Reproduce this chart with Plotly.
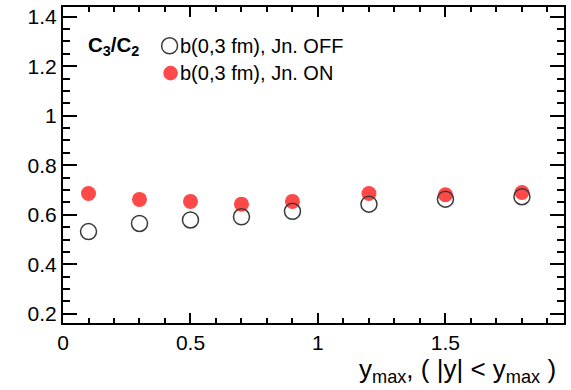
import plotly.graph_objects as go

ymax_vals = [0.1, 0.3, 0.5, 0.7, 0.9, 1.2, 1.5, 1.8]
ratio_jn_off = [0.532, 0.565, 0.579, 0.592, 0.614, 0.643, 0.663, 0.673]
ratio_jn_on = [0.686, 0.662, 0.654, 0.643, 0.654, 0.686, 0.681, 0.690]
label_off = "b(0,3 fm), Jn. OFF"
label_on = "b(0,3 fm), Jn. ON"
red = "#ff4848"
dark = "#3a3a3a"
FONT = "Liberation Sans, Arial, Helvetica, sans-serif"

fig = go.Figure()
fig.add_trace(go.Scatter(x=ymax_vals, y=ratio_jn_on, mode="markers", name=label_on,
                         marker=dict(symbol="circle", size=15, color=red, line=dict(width=0)),
                         showlegend=False))
fig.add_trace(go.Scatter(x=ymax_vals, y=ratio_jn_off, mode="markers", name=label_off,
                         marker=dict(symbol="circle-open", size=16, color=dark, line=dict(width=1.5)),
                         showlegend=False))

L, R, T, B = 63, 5, 5, 67
W, H = 571, 390
pw, ph = W - L - R, H - T - B

def px(xp):
    return (xp - L) / pw

def py(yp):
    return (H - B - yp) / ph

# manual legend
fig.add_shape(type="circle", xref="paper", yref="paper", xsizemode="pixel", ysizemode="pixel",
              xanchor=px(170), yanchor=py(44), x0=-8, x1=8, y0=-8, y1=8,
              line=dict(color=dark, width=1.5), fillcolor="rgba(0,0,0,0)")
fig.add_shape(type="circle", xref="paper", yref="paper", xsizemode="pixel", ysizemode="pixel",
              xanchor=px(171), yanchor=py(71.5), x0=-7.3, x1=7.3, y0=-7.3, y1=7.3,
              line=dict(color=red, width=0), fillcolor=red)
fig.add_annotation(x=px(178), y=py(44), xref="paper", yref="paper", text=label_off,
                   showarrow=False, xanchor="left", yanchor="middle",
                   font=dict(family=FONT, size=20, color="black"))
fig.add_annotation(x=px(178), y=py(71.5), xref="paper", yref="paper", text=label_on,
                   showarrow=False, xanchor="left", yanchor="middle",
                   font=dict(family=FONT, size=20, color="black"))
fig.add_annotation(x=px(86), y=py(44), xref="paper", yref="paper",
                   text="<b>C<sub>3</sub>/C<sub>2</sub></b>",
                   showarrow=False, xanchor="left", yanchor="middle",
                   font=dict(family=FONT, size=20.5, color="black"))
fig.add_annotation(x=px(560), y=py(389), xref="paper", yref="paper",
                   text="y<sub>max</sub>, ( |y| < y<sub>max</sub> )",
                   showarrow=False, xanchor="right", yanchor="bottom",
                   font=dict(family=FONT, size=26, color="black"))

axis_common = dict(showline=True, linewidth=2, linecolor="black", mirror="ticks",
                   ticks="inside", tickcolor="black", tickwidth=1.5, showgrid=False,
                   zeroline=False, tickfont=dict(family=FONT, size=21, color="black"))

fig.update_xaxes(range=[0, 1.965], tickvals=[0, 0.5, 1, 1.5], ticktext=["0", "0.5", "1", "1.5"],
                 ticklen=10,
                 minor=dict(dtick=0.1, tick0=0, ticks="inside", ticklen=5, tickwidth=1.5,
                            tickcolor="black", showgrid=False),
                 **axis_common)
fig.update_yaxes(range=[0.163, 1.439], tickvals=[0.2, 0.4, 0.6, 0.8, 1.0, 1.2, 1.4],
                 ticktext=["0.2", "0.4", "0.6", "0.8", "1", "1.2", "1.4"],
                 ticklen=14,
                 minor=dict(dtick=0.05, tick0=0, ticks="inside", ticklen=7, tickwidth=1.5,
                            tickcolor="black", showgrid=False),
                 **axis_common)

fig.update_layout(width=W, height=H, margin=dict(l=L, r=R, t=T, b=B),
                  paper_bgcolor="white", plot_bgcolor="white", showlegend=False,
                  font=dict(family=FONT))
fig.write_html("out.html")
